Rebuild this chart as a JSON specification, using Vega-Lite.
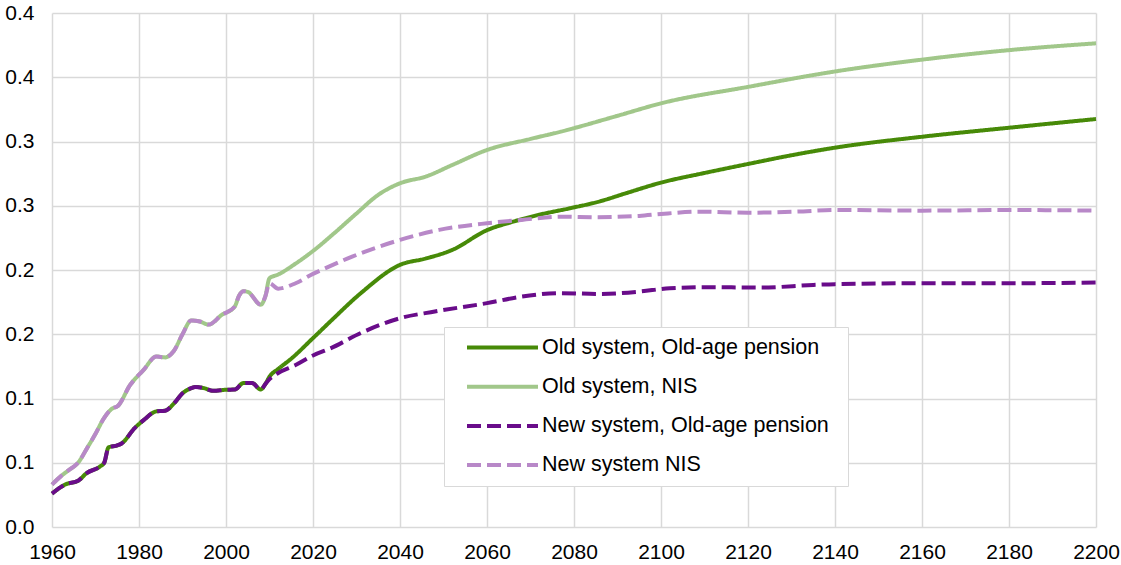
{
  "$schema": "https://vega.github.io/schema/vega-lite/v6.json",
  "width": 1044,
  "height": 514,
  "autosize": "none",
  "padding": {"left": 52, "top": 13, "right": 25, "bottom": 38},
  "background": "white",
  "config": {
    "view": {"stroke": null},
    "font": "Liberation Sans",
    "axis": {
      "grid": true,
      "gridColor": "#d9d9d9",
      "gridWidth": 1.5,
      "domain": false,
      "ticks": false,
      "title": null,
      "labelColor": "#000000",
      "labelFont": "Liberation Sans",
      "labelFontSize": 21
    }
  },
  "data": {
    "values": [
      {"s": "Old system, Old-age pension", "x": 1960, "y": 0.026},
      {"s": "Old system, Old-age pension", "x": 1962, "y": 0.031},
      {"s": "Old system, Old-age pension", "x": 1963, "y": 0.033},
      {"s": "Old system, Old-age pension", "x": 1966, "y": 0.036},
      {"s": "Old system, Old-age pension", "x": 1968, "y": 0.042},
      {"s": "Old system, Old-age pension", "x": 1971, "y": 0.047},
      {"s": "Old system, Old-age pension", "x": 1972, "y": 0.050},
      {"s": "Old system, Old-age pension", "x": 1973, "y": 0.062},
      {"s": "Old system, Old-age pension", "x": 1975, "y": 0.0635},
      {"s": "Old system, Old-age pension", "x": 1976, "y": 0.065},
      {"s": "Old system, Old-age pension", "x": 1979, "y": 0.077},
      {"s": "Old system, Old-age pension", "x": 1981, "y": 0.083},
      {"s": "Old system, Old-age pension", "x": 1984, "y": 0.090},
      {"s": "Old system, Old-age pension", "x": 1986, "y": 0.0905},
      {"s": "Old system, Old-age pension", "x": 1988, "y": 0.096},
      {"s": "Old system, Old-age pension", "x": 1990, "y": 0.104},
      {"s": "Old system, Old-age pension", "x": 1992, "y": 0.108},
      {"s": "Old system, Old-age pension", "x": 1993, "y": 0.109},
      {"s": "Old system, Old-age pension", "x": 1995, "y": 0.108},
      {"s": "Old system, Old-age pension", "x": 1997, "y": 0.106},
      {"s": "Old system, Old-age pension", "x": 2000, "y": 0.1068},
      {"s": "Old system, Old-age pension", "x": 2002, "y": 0.107},
      {"s": "Old system, Old-age pension", "x": 2004, "y": 0.112},
      {"s": "Old system, Old-age pension", "x": 2006, "y": 0.112},
      {"s": "Old system, Old-age pension", "x": 2008, "y": 0.107},
      {"s": "Old system, Old-age pension", "x": 2009, "y": 0.111},
      {"s": "Old system, Old-age pension", "x": 2010, "y": 0.117},
      {"s": "Old system, Old-age pension", "x": 2012, "y": 0.123},
      {"s": "Old system, Old-age pension", "x": 2015, "y": 0.131},
      {"s": "Old system, Old-age pension", "x": 2020, "y": 0.147},
      {"s": "Old system, Old-age pension", "x": 2024, "y": 0.160},
      {"s": "Old system, Old-age pension", "x": 2031, "y": 0.182},
      {"s": "Old system, Old-age pension", "x": 2040, "y": 0.204},
      {"s": "Old system, Old-age pension", "x": 2046, "y": 0.209},
      {"s": "Old system, Old-age pension", "x": 2052, "y": 0.2156},
      {"s": "Old system, Old-age pension", "x": 2060, "y": 0.231},
      {"s": "Old system, Old-age pension", "x": 2066, "y": 0.2376},
      {"s": "Old system, Old-age pension", "x": 2072, "y": 0.243},
      {"s": "Old system, Old-age pension", "x": 2079, "y": 0.248},
      {"s": "Old system, Old-age pension", "x": 2086, "y": 0.2535},
      {"s": "Old system, Old-age pension", "x": 2092, "y": 0.2598},
      {"s": "Old system, Old-age pension", "x": 2100, "y": 0.268},
      {"s": "Old system, Old-age pension", "x": 2110, "y": 0.2755},
      {"s": "Old system, Old-age pension", "x": 2120, "y": 0.2825},
      {"s": "Old system, Old-age pension", "x": 2130, "y": 0.2893},
      {"s": "Old system, Old-age pension", "x": 2140, "y": 0.2952},
      {"s": "Old system, Old-age pension", "x": 2160, "y": 0.3037},
      {"s": "Old system, Old-age pension", "x": 2180, "y": 0.3107},
      {"s": "Old system, Old-age pension", "x": 2200, "y": 0.3175},

      {"s": "Old system, NIS", "x": 1960, "y": 0.033},
      {"s": "Old system, NIS", "x": 1962, "y": 0.0394},
      {"s": "Old system, NIS", "x": 1964, "y": 0.0446},
      {"s": "Old system, NIS", "x": 1966, "y": 0.050},
      {"s": "Old system, NIS", "x": 1968, "y": 0.061},
      {"s": "Old system, NIS", "x": 1970, "y": 0.0725},
      {"s": "Old system, NIS", "x": 1972, "y": 0.085},
      {"s": "Old system, NIS", "x": 1974, "y": 0.0925},
      {"s": "Old system, NIS", "x": 1975, "y": 0.0938},
      {"s": "Old system, NIS", "x": 1978, "y": 0.1107},
      {"s": "Old system, NIS", "x": 1981, "y": 0.122},
      {"s": "Old system, NIS", "x": 1984, "y": 0.1327},
      {"s": "Old system, NIS", "x": 1986, "y": 0.132},
      {"s": "Old system, NIS", "x": 1988, "y": 0.137},
      {"s": "Old system, NIS", "x": 1990, "y": 0.150},
      {"s": "Old system, NIS", "x": 1992, "y": 0.1607},
      {"s": "Old system, NIS", "x": 1994, "y": 0.1599},
      {"s": "Old system, NIS", "x": 1996, "y": 0.1575},
      {"s": "Old system, NIS", "x": 1999, "y": 0.165},
      {"s": "Old system, NIS", "x": 2002, "y": 0.1715},
      {"s": "Old system, NIS", "x": 2003, "y": 0.180},
      {"s": "Old system, NIS", "x": 2004, "y": 0.1835},
      {"s": "Old system, NIS", "x": 2005, "y": 0.183},
      {"s": "Old system, NIS", "x": 2008, "y": 0.173},
      {"s": "Old system, NIS", "x": 2009, "y": 0.179},
      {"s": "Old system, NIS", "x": 2010, "y": 0.1936},
      {"s": "Old system, NIS", "x": 2012, "y": 0.1965},
      {"s": "Old system, NIS", "x": 2016, "y": 0.205},
      {"s": "Old system, NIS", "x": 2020, "y": 0.2148},
      {"s": "Old system, NIS", "x": 2025, "y": 0.229},
      {"s": "Old system, NIS", "x": 2030, "y": 0.244},
      {"s": "Old system, NIS", "x": 2035, "y": 0.2585},
      {"s": "Old system, NIS", "x": 2040, "y": 0.2675},
      {"s": "Old system, NIS", "x": 2046, "y": 0.2728},
      {"s": "Old system, NIS", "x": 2052, "y": 0.2817},
      {"s": "Old system, NIS", "x": 2060, "y": 0.2934},
      {"s": "Old system, NIS", "x": 2070, "y": 0.302},
      {"s": "Old system, NIS", "x": 2077, "y": 0.3077},
      {"s": "Old system, NIS", "x": 2090, "y": 0.320},
      {"s": "Old system, NIS", "x": 2100, "y": 0.3297},
      {"s": "Old system, NIS", "x": 2120, "y": 0.3425},
      {"s": "Old system, NIS", "x": 2140, "y": 0.3545},
      {"s": "Old system, NIS", "x": 2160, "y": 0.3637},
      {"s": "Old system, NIS", "x": 2180, "y": 0.3711},
      {"s": "Old system, NIS", "x": 2200, "y": 0.3764},

      {"s": "New system, Old-age pension", "x": 1960, "y": 0.026},
      {"s": "New system, Old-age pension", "x": 1962, "y": 0.031},
      {"s": "New system, Old-age pension", "x": 1963, "y": 0.033},
      {"s": "New system, Old-age pension", "x": 1966, "y": 0.036},
      {"s": "New system, Old-age pension", "x": 1968, "y": 0.042},
      {"s": "New system, Old-age pension", "x": 1971, "y": 0.047},
      {"s": "New system, Old-age pension", "x": 1972, "y": 0.050},
      {"s": "New system, Old-age pension", "x": 1973, "y": 0.062},
      {"s": "New system, Old-age pension", "x": 1975, "y": 0.0635},
      {"s": "New system, Old-age pension", "x": 1976, "y": 0.065},
      {"s": "New system, Old-age pension", "x": 1979, "y": 0.077},
      {"s": "New system, Old-age pension", "x": 1981, "y": 0.083},
      {"s": "New system, Old-age pension", "x": 1984, "y": 0.090},
      {"s": "New system, Old-age pension", "x": 1986, "y": 0.0905},
      {"s": "New system, Old-age pension", "x": 1988, "y": 0.096},
      {"s": "New system, Old-age pension", "x": 1990, "y": 0.104},
      {"s": "New system, Old-age pension", "x": 1992, "y": 0.108},
      {"s": "New system, Old-age pension", "x": 1993, "y": 0.109},
      {"s": "New system, Old-age pension", "x": 1995, "y": 0.108},
      {"s": "New system, Old-age pension", "x": 1997, "y": 0.106},
      {"s": "New system, Old-age pension", "x": 2000, "y": 0.1068},
      {"s": "New system, Old-age pension", "x": 2002, "y": 0.107},
      {"s": "New system, Old-age pension", "x": 2004, "y": 0.112},
      {"s": "New system, Old-age pension", "x": 2006, "y": 0.112},
      {"s": "New system, Old-age pension", "x": 2008, "y": 0.107},
      {"s": "New system, Old-age pension", "x": 2009, "y": 0.111},
      {"s": "New system, Old-age pension", "x": 2010, "y": 0.115},
      {"s": "New system, Old-age pension", "x": 2012, "y": 0.1198},
      {"s": "New system, Old-age pension", "x": 2016, "y": 0.126},
      {"s": "New system, Old-age pension", "x": 2020, "y": 0.1335},
      {"s": "New system, Old-age pension", "x": 2024, "y": 0.139},
      {"s": "New system, Old-age pension", "x": 2031, "y": 0.151},
      {"s": "New system, Old-age pension", "x": 2040, "y": 0.1625},
      {"s": "New system, Old-age pension", "x": 2048, "y": 0.1677},
      {"s": "New system, Old-age pension", "x": 2060, "y": 0.1742},
      {"s": "New system, Old-age pension", "x": 2068, "y": 0.1793},
      {"s": "New system, Old-age pension", "x": 2077, "y": 0.182},
      {"s": "New system, Old-age pension", "x": 2086, "y": 0.1814},
      {"s": "New system, Old-age pension", "x": 2095, "y": 0.1832},
      {"s": "New system, Old-age pension", "x": 2102, "y": 0.1858},
      {"s": "New system, Old-age pension", "x": 2111, "y": 0.1866},
      {"s": "New system, Old-age pension", "x": 2123, "y": 0.1863},
      {"s": "New system, Old-age pension", "x": 2135, "y": 0.1884},
      {"s": "New system, Old-age pension", "x": 2140, "y": 0.189},
      {"s": "New system, Old-age pension", "x": 2160, "y": 0.1897},
      {"s": "New system, Old-age pension", "x": 2180, "y": 0.1897},
      {"s": "New system, Old-age pension", "x": 2200, "y": 0.1902},

      {"s": "New system NIS", "x": 1960, "y": 0.033},
      {"s": "New system NIS", "x": 1962, "y": 0.0394},
      {"s": "New system NIS", "x": 1964, "y": 0.0446},
      {"s": "New system NIS", "x": 1966, "y": 0.050},
      {"s": "New system NIS", "x": 1968, "y": 0.061},
      {"s": "New system NIS", "x": 1970, "y": 0.0725},
      {"s": "New system NIS", "x": 1972, "y": 0.085},
      {"s": "New system NIS", "x": 1974, "y": 0.0925},
      {"s": "New system NIS", "x": 1975, "y": 0.0938},
      {"s": "New system NIS", "x": 1978, "y": 0.1107},
      {"s": "New system NIS", "x": 1981, "y": 0.122},
      {"s": "New system NIS", "x": 1984, "y": 0.1327},
      {"s": "New system NIS", "x": 1986, "y": 0.132},
      {"s": "New system NIS", "x": 1988, "y": 0.137},
      {"s": "New system NIS", "x": 1990, "y": 0.150},
      {"s": "New system NIS", "x": 1992, "y": 0.1607},
      {"s": "New system NIS", "x": 1994, "y": 0.1599},
      {"s": "New system NIS", "x": 1996, "y": 0.1575},
      {"s": "New system NIS", "x": 1999, "y": 0.165},
      {"s": "New system NIS", "x": 2002, "y": 0.1715},
      {"s": "New system NIS", "x": 2003, "y": 0.180},
      {"s": "New system NIS", "x": 2004, "y": 0.1835},
      {"s": "New system NIS", "x": 2005, "y": 0.183},
      {"s": "New system NIS", "x": 2008, "y": 0.173},
      {"s": "New system NIS", "x": 2009, "y": 0.179},
      {"s": "New system NIS", "x": 2010, "y": 0.1897},
      {"s": "New system NIS", "x": 2012, "y": 0.1855},
      {"s": "New system NIS", "x": 2016, "y": 0.1897},
      {"s": "New system NIS", "x": 2020, "y": 0.197},
      {"s": "New system NIS", "x": 2022, "y": 0.2001},
      {"s": "New system NIS", "x": 2029, "y": 0.2104},
      {"s": "New system NIS", "x": 2040, "y": 0.2234},
      {"s": "New system NIS", "x": 2049, "y": 0.2312},
      {"s": "New system NIS", "x": 2060, "y": 0.2364},
      {"s": "New system NIS", "x": 2068, "y": 0.239},
      {"s": "New system NIS", "x": 2077, "y": 0.2415},
      {"s": "New system NIS", "x": 2085, "y": 0.2411},
      {"s": "New system NIS", "x": 2095, "y": 0.2421},
      {"s": "New system NIS", "x": 2100, "y": 0.2436},
      {"s": "New system NIS", "x": 2109, "y": 0.2454},
      {"s": "New system NIS", "x": 2120, "y": 0.2446},
      {"s": "New system NIS", "x": 2131, "y": 0.2454},
      {"s": "New system NIS", "x": 2140, "y": 0.2467},
      {"s": "New system NIS", "x": 2160, "y": 0.2462},
      {"s": "New system NIS", "x": 2180, "y": 0.2467},
      {"s": "New system NIS", "x": 2200, "y": 0.2462}
    ]
  },
  "encoding": {
    "x": {
      "field": "x",
      "type": "quantitative",
      "scale": {"domain": [1960, 2200], "nice": false, "zero": false},
      "axis": {
        "values": [1960, 1980, 2000, 2020, 2040, 2060, 2080, 2100, 2120, 2140, 2160, 2180, 2200],
        "format": "d",
        "labelPadding": 14,
        "labelFlush": false
      }
    },
    "y": {
      "field": "y",
      "type": "quantitative",
      "scale": {"domain": [0, 0.4], "nice": false},
      "axis": {
        "values": [0, 0.05, 0.1, 0.15, 0.2, 0.25, 0.3, 0.35, 0.4],
        "labelExpr": "format(round(datum.value * 10 + 0.001) / 10, '.1f')",
        "labelPadding": 18
      }
    },
    "color": {
      "field": "s",
      "type": "nominal",
      "scale": {
        "domain": ["Old system, Old-age pension", "Old system, NIS", "New system, Old-age pension", "New system NIS"],
        "range": ["#478A08", "#A1C78A", "#690C8A", "#B888C8"]
      },
      "legend": {
        "title": " ",
        "titleOrient": "right",
        "titlePadding": 9,
        "titleFontSize": 12,
        "orient": "none",
        "legendX": 392,
        "legendY": 314,
        "padding": 10,
        "fillColor": "white",
        "strokeColor": "#d9d9d9",
        "symbolType": "stroke",
        "symbolSize": 5041,
        "symbolStrokeWidth": 4,
        "clipHeight": 21,
        "rowPadding": 17.2,
        "labelFont": "Liberation Sans",
        "labelFontSize": 21.5,
        "labelColor": "#000000",
        "labelOffset": 2,
        "symbolOffset": 11,
        "labelLimit": 0
      }
    },
    "strokeDash": {
      "field": "s",
      "type": "nominal",
      "scale": {
        "domain": ["Old system, Old-age pension", "Old system, NIS", "New system, Old-age pension", "New system NIS"],
        "range": [[1, 0], [1, 0], [14, 6], [14, 6]]
      },
      "legend": {
        "title": " ",
        "titleOrient": "right",
        "titlePadding": 9,
        "titleFontSize": 12,
        "orient": "none",
        "legendX": 392,
        "legendY": 314,
        "padding": 10,
        "fillColor": "white",
        "strokeColor": "#d9d9d9",
        "symbolType": "stroke",
        "symbolSize": 5041,
        "symbolStrokeWidth": 4,
        "clipHeight": 21,
        "rowPadding": 17.2,
        "labelFont": "Liberation Sans",
        "labelFontSize": 21.5,
        "labelColor": "#000000",
        "labelOffset": 2,
        "symbolOffset": 11,
        "labelLimit": 0
      }
    }
  },
  "layer": [
    {
      "transform": [{"filter": "indexof(datum.s, 'Old') === 0"}],
      "mark": {"type": "line", "strokeWidth": 4, "interpolate": "monotone"}
    },
    {
      "transform": [{"filter": "indexof(datum.s, 'New') === 0"}],
      "mark": {"type": "line", "strokeWidth": 4, "interpolate": "monotone"}
    }
  ]
}
